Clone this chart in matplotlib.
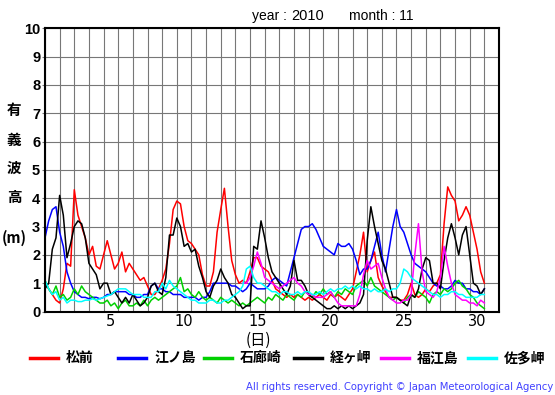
import numpy as np
import matplotlib.pyplot as plt
from matplotlib.lines import Line2D

# significant wave height (m), every 6 hours from Nov 1 00:00 to Dec 1 00:00
matsumae = [1.0, 0.8, 0.6, 0.4,  0.3, 0.8, 1.7, 1.6,  4.3, 3.4, 3.0, 2.6,  2.0, 2.3, 1.6, 1.5,
            2.0, 2.5, 2.0, 1.5,  1.7, 2.1, 1.4, 1.7,  1.5, 1.3, 1.1, 1.2,  0.9, 0.6, 0.6, 0.8,
            1.1, 1.5, 2.4, 3.6,  3.9, 3.8, 3.0, 2.5,  2.4, 2.2, 2.0, 1.3,  0.9, 0.9, 1.4, 2.8,
            3.6, 4.35, 3.0, 1.8, 1.3, 1.0, 1.1, 1.0,  1.4, 1.9, 1.9, 1.6,  1.5, 1.4, 1.1, 0.8,
            0.7, 0.6, 0.5, 0.6,  0.5, 0.6, 0.5, 0.4,  0.5, 0.4, 0.5, 0.6,  0.5, 0.4, 0.6, 0.5,
            0.6, 0.5, 0.4, 0.6,  0.8, 1.4, 2.0, 2.8,  1.4, 1.8, 2.1, 1.2,  0.9, 0.7, 0.5, 0.5,
            0.5, 0.4, 0.4, 0.6,  1.0, 0.6, 0.5, 0.6,  0.8, 0.7, 0.9, 1.0,  1.3, 3.1, 4.4, 4.1,
            3.9, 3.2, 3.4, 3.7,  3.4, 2.8, 2.2, 1.4,  1.0]
enoshima = [2.6, 3.2, 3.6, 3.7,  2.8, 2.3, 1.4, 1.0,  0.7, 0.6, 0.5, 0.5,  0.45, 0.5, 0.5, 0.45,
            0.5, 0.6, 0.6, 0.7,  0.7, 0.7, 0.7, 0.6,  0.6, 0.5, 0.5, 0.6,  0.6, 0.9, 1.0, 0.8,
            0.8, 0.7, 0.7, 0.6,  0.6, 0.6, 0.5, 0.5,  0.5, 0.5, 0.4, 0.5,  0.5, 0.7, 1.0, 1.0,
            1.0, 1.0, 1.0, 0.9,  0.9, 0.8, 0.7, 0.8,  1.0, 0.9, 0.8, 0.8,  0.8, 0.9, 1.1, 1.2,
            1.1, 1.0, 0.9, 1.4,  1.9, 2.4, 2.9, 3.0,  3.0, 3.1, 2.9, 2.6,  2.3, 2.2, 2.1, 2.0,
            2.4, 2.3, 2.3, 2.4,  2.2, 1.8, 1.3, 1.5,  1.5, 1.8, 2.3, 2.8,  2.0, 1.4, 2.2, 3.0,
            3.6, 3.0, 2.8, 2.4,  2.0, 1.7, 1.6, 1.5,  1.4, 1.2, 1.0, 0.9,  0.9, 0.8, 0.8, 0.9,
            1.1, 1.0, 1.0, 0.8,  0.8, 0.7, 0.7, 0.6,  0.8]
irozaki = [1.1, 0.8, 0.6, 0.9,  0.5, 0.6, 0.4, 0.5,  0.8, 0.6, 0.9, 0.7,  0.6, 0.5, 0.4, 0.3,
           0.3, 0.4, 0.2, 0.3,  0.1, 0.3, 0.4, 0.2,  0.2, 0.3, 0.2, 0.4,  0.2, 0.4, 0.5, 0.4,
           0.5, 0.6, 0.7, 0.8,  0.9, 1.2, 0.7, 0.8,  0.6, 0.5, 0.7, 0.5,  0.4, 0.5, 0.4, 0.3,
           0.5, 0.4, 0.3, 0.4,  0.3, 0.2, 0.3, 0.2,  0.3, 0.4, 0.5, 0.4,  0.3, 0.5, 0.4, 0.6,
           0.5, 0.4, 0.6, 0.5,  0.4, 0.6, 0.5, 0.7,  0.6, 0.5, 0.7, 0.6,  0.8, 0.6, 0.7, 0.5,
           0.7, 0.6, 0.8, 0.7,  0.6, 0.9, 1.0, 1.1,  0.9, 1.2, 0.9, 0.8,  0.7, 0.6, 0.5, 0.4,
           0.5, 0.4, 0.3, 0.5,  0.6, 0.5, 0.7, 0.6,  0.5, 0.3, 0.6, 0.7,  0.6, 0.8, 0.7, 0.8,
           1.0, 1.1, 0.9, 0.8,  0.6, 0.5, 0.3, 0.2,  0.1]
kyougamisaki = [0.8, 1.0, 2.2, 2.6,  4.1, 3.4, 1.9, 2.4,  3.0, 3.2, 3.1, 2.6,  1.7, 1.5, 1.3, 0.8,
                1.0, 1.0, 0.6, 0.7,  0.5, 0.3, 0.5, 0.3,  0.6, 0.4, 0.2, 0.3,  0.5, 0.9, 1.0, 0.7,
                0.6, 1.2, 2.7, 2.7,  3.3, 3.0, 2.3, 2.4,  2.1, 2.2, 1.6, 1.2,  0.7, 0.5, 0.9, 1.1,
                1.5, 1.2, 1.0, 0.6,  0.5, 0.3, 0.1, 0.2,  0.2, 2.3, 2.2, 3.2,  2.6, 1.9, 1.4, 1.2,
                1.0, 0.8, 0.6, 0.9,  1.8, 1.1, 1.1, 0.9,  0.6, 0.5, 0.4, 0.3,  0.2, 0.1, 0.1, 0.2,
                0.1, 0.2, 0.1, 0.2,  0.1, 0.2, 0.3, 0.6,  2.5, 3.7, 3.0, 2.4,  1.8, 1.5, 1.0, 0.5,
                0.5, 0.4, 0.3, 0.2,  0.6, 0.5, 0.8, 1.5,  1.9, 1.8, 1.0, 1.0,  0.8, 1.8, 2.6, 3.1,
                2.6, 2.0, 2.7, 3.0,  2.0, 1.0, 0.9, 0.6,  0.8]
nan = np.nan
fukuejima = [nan] * 54 + [
             1.0, 1.0,  1.2, 1.6, 2.1, 1.7,  1.2, 1.1, 1.0, 0.9,
             0.8, 0.9, 1.0, 1.1,  1.2, 1.0, 0.9, 0.7,  0.6, 0.6, 0.5, 0.5,  0.5, 0.6, 0.7, 0.5,
             0.3, 0.2, 0.2, 0.2,  0.2, 0.2, 0.6, 1.3,  1.8, 1.5, 1.6, 1.7,  1.2, 0.8, 0.5, 0.4,
             0.3, 0.3, 0.4, 0.4,  0.6, 2.0, 3.1, 1.4,  0.7, 0.6, 0.5, 0.7,  1.2, 2.3, 1.6, 1.0,
             0.6, 0.5, 0.4, 0.4,  0.3, 0.3, 0.2, 0.4,  0.3]
satamisaki = [1.1, 0.8, 0.6, 0.7,  0.4, 0.5, 0.3, 0.4,  0.4, 0.35, 0.35, 0.4,  0.4, 0.45, 0.4, 0.45,
              0.5, 0.55, 0.6, 0.7,  0.8, 0.8, 0.8, 0.7,  0.6, 0.6, 0.6, 0.5,  0.5, 0.5, 0.7, 0.7,
              1.0, 0.8, 1.1, 0.9,  0.8, 0.7, 0.6, 0.5,  0.4, 0.4, 0.3, 0.3,  0.3, 0.4, 0.4, 0.3,
              0.3, 0.4, 0.4, 0.5,  0.6, 0.7, 0.9, 1.5,  1.6, 1.2, 1.0, 1.0,  0.9, 0.8, 0.7, 0.7,
              0.6, 0.7, 0.7, 0.6,  0.6, 0.7, 0.6, 0.7,  0.7, 0.6, 0.6, 0.7,  0.6, 0.7, 0.8, 0.7,
              0.8, 0.8, 0.9, 0.8,  0.9, 0.8, 0.9, 0.8,  0.8, 0.7, 0.8, 0.7,  0.7, 0.8, 0.7, 0.8,
              0.8, 1.0, 1.5, 1.4,  1.2, 1.1, 1.0, 0.9,  0.8, 0.7, 0.6, 0.6,  0.5, 0.6, 0.6, 0.7,
              0.7, 0.6, 0.6, 0.5,  0.5, 0.5, 0.5, 0.6,  0.6]

stations = ["松前", "江ノ島", "石廊崎", "経ヶ岬", "福江島", "佐多岬"]
series = [matsumae, enoshima, irozaki, kyougamisaki, fukuejima, satamisaki]
colors = ["#ff0000", "#0000ff", "#00d000", "#000000", "#ff00ff", "#00ffff"]
day_labels = [5, 10, 15, 20, 25, 30]
t = np.arange(len(matsumae)) * 0.25   # days since Nov 1 00:00

W, H = 555, 395
fig = plt.figure(figsize=(W / 100, H / 100), dpi=100)
ax = fig.add_axes([45 / W, 1 - 311.5 / H, 454 / W, 283.2 / H])

for vals, c in zip(series, colors):
    ax.plot(t, vals, color=c, lw=1.1)

ax.set_xlim(0, 31)
ax.set_ylim(0, 10)
# grid on every day / every metre, day labels centred in their cell
ax.set_xticks(range(32))
ax.set_xticklabels([])
ax.set_xticks([d - 0.5 for d in day_labels], labels=[str(d) for d in day_labels], minor=True)
ax.set_yticks(range(11))
ax.grid(True, which="major", color="#777777", lw=0.8)
ax.tick_params(axis="x", which="both", length=0, pad=2, labelsize=10.5)
ax.tick_params(axis="y", length=2.5, width=0.8, color="#777777", pad=1)
for lab in ax.get_yticklabels():
    lab.set_family("Liberation Sans")
    lab.set_fontweight("bold")
    lab.set_fontsize(10.5)
for s in ax.spines.values():
    s.set_linewidth(1.5)

cjk = ["Noto Sans CJK JP", "DejaVu Sans"]

# title
fig.text(252 / W, 1 - 16 / H, "year : ", fontsize=10, family="Liberation Sans", va="center")
fig.text(291 / W, 1 - 16 / H, "2010", fontsize=10.5, family="Liberation Sans", va="center")
fig.text(349 / W, 1 - 16 / H, "month : 11", fontsize=10, family="Liberation Sans", va="center")

# y label, written vertically
for ch, yp in zip(["有", "義", "波", "高", "(m)"], [110, 140, 168, 197, 238]):
    fig.text(14 / W, 1 - yp / H, ch, family=cjk, fontsize=10.5, fontweight="bold",
             ha="center", va="center")

fig.text(258 / W, 1 - 340 / H, "(日)", family=cjk, fontsize=11, ha="center", va="center")

# legend row
line_x = [30, 118, 204, 294, 381, 468]
for name, c, x0 in zip(stations, colors, line_x):
    fig.add_artist(Line2D([x0 / W, (x0 + 28) / W], [1 - 358 / H] * 2, color=c, lw=2.5,
                          transform=fig.transFigure))
    fig.text((x0 + 36) / W, 1 - 358 / H, name, family=cjk, fontsize=10, fontweight="bold",
             va="center")

fig.text(553 / W, 1 - 387 / H, "All rights reserved. Copyright © Japan Meteorological Agency",
         fontsize=7.2, color="#4040ff", ha="right", va="center")

fig.savefig("out.png", dpi=100)
